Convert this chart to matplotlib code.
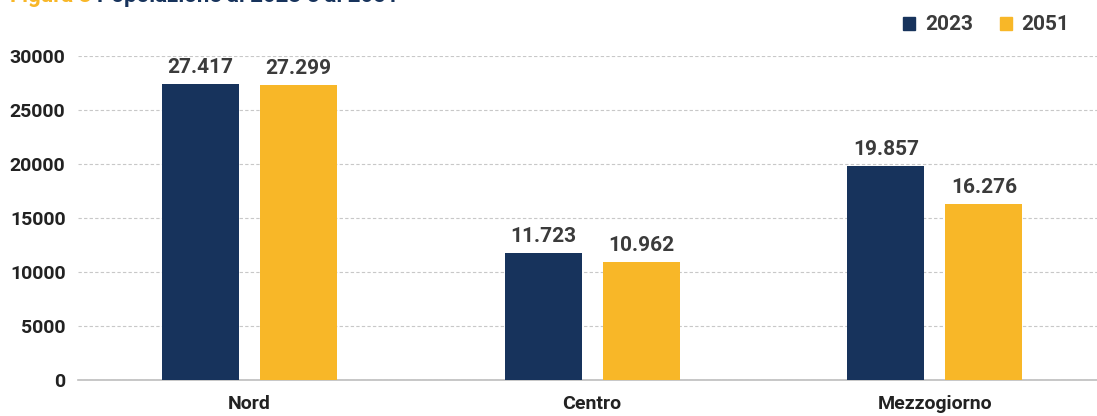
import matplotlib
matplotlib.use("Agg")
import matplotlib.pyplot as plt
from matplotlib.patches import Patch
import numpy as np

plt.rcParams["font.family"] = ["Roboto", "DejaVu Sans"]
plt.rcParams["font.weight"] = "bold"

regions = ["Nord", "Centro", "Mezzogiorno"]
years = ["2023", "2051"]
pop_2023 = [27417, 11723, 19857]
pop_2051 = [27299, 10962, 16276]

NAVY = "#17335c"
GOLD = "#f8b728"
TEXT = "#3b3b3b"


def fmt_it(v):
    return f"{v:,.0f}".replace(",", ".")


fig = plt.figure(figsize=(10.97, 4.16), dpi=100)
ax = fig.add_axes([78 / 1097, 36 / 416, 1 - 78 / 1097, (380 - 56) / 416])

x = np.arange(len(regions))
w = 0.225
off = 0.143
b1 = ax.bar(x - off, pop_2023, w, color=NAVY, zorder=3)
b2 = ax.bar(x + off, pop_2051, w, color=GOLD, zorder=3)

for bars, vals in ((b1, pop_2023), (b2, pop_2051)):
    for bar, v in zip(bars, vals):
        ax.text(bar.get_x() + bar.get_width() / 2, v + 650, fmt_it(v),
                ha="center", va="bottom", fontsize=15, color=TEXT, fontweight="bold")

ax.set_xlim(-0.5, 2.473)
ax.set_ylim(0, 30000)
ax.set_yticks(range(0, 30001, 5000))
ax.set_xticks(x)
ax.set_xticklabels(regions, fontsize=14, color="#222222", fontweight="bold")
ax.tick_params(axis="y", labelsize=14, labelcolor="#222222", length=0, pad=9)
ax.tick_params(axis="x", length=0, pad=11)
ax.grid(axis="y", color="#c8c8c8", linestyle=(0, (3, 2)), linewidth=0.8, zorder=0)
for side in ("top", "right", "left"):
    ax.spines[side].set_visible(False)
ax.spines["bottom"].set_color("#bdbdbd")
ax.spines["bottom"].set_linewidth(1.2)

handles = [Patch(color=NAVY), Patch(color=GOLD)]
fig.legend(handles, years, loc="center right", bbox_to_anchor=(1080 / 1097, 1 - 25 / 416),
           ncol=2, frameon=False, fontsize=15, handlelength=0.6, handleheight=0.6,
           handletextpad=0.45, columnspacing=1.3, labelcolor=TEXT, borderpad=0)

# title, partly clipped at the top edge
t1 = fig.text(10 / 1097, 1 - 2 / 416, "Figura 3 ", color=GOLD, fontsize=16,
              fontweight="bold", va="baseline", ha="left")
fig.canvas.draw()
bb = t1.get_window_extent()
fig.text(bb.x1 / fig.bbox.width, 1 - 2 / 416, "Popolazione al 2023 e al 2051",
         color=NAVY, fontsize=16, fontweight="bold", va="baseline", ha="left")

fig.savefig("out.png", dpi=100)
